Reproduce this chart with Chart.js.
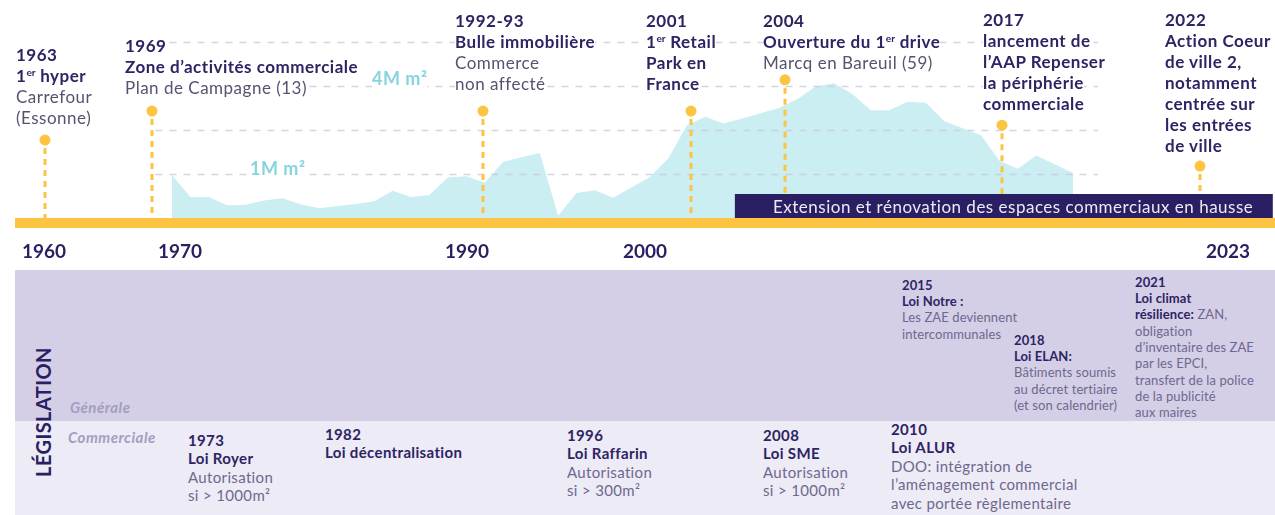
<!DOCTYPE html>
<html lang="fr">
<head>
<meta charset="utf-8">
<script src="https://cdn.jsdelivr.net/npm/chart.js@4.4.1/dist/chart.umd.min.js"></script>
<style>
  html,body{margin:0;padding:0;background:#fff;}
  body{width:1275px;height:515px;overflow:hidden;position:relative;font-family:Lato,"Open Sans",sans-serif;}
  #wrap{position:absolute;left:0;top:0;width:1275px;height:262px;}
  .nt{position:absolute;font-size:17px;line-height:21px;color:#2d2463;white-space:nowrap;z-index:5;letter-spacing:0.5px;}
  .nt>div{width:fit-content;background:#fff;}
  .b{font-weight:700;}
  .r{font-weight:400;color:#57526f;}
  sup{font-size:0.6em;line-height:0;vertical-align:0.6em;letter-spacing:0;}
  .unit{position:absolute;font-size:18px;line-height:20px;font-weight:700;color:#86d5de;background:#fff;z-index:5;white-space:nowrap;letter-spacing:0.5px;}
  .bartxt{position:absolute;left:773px;top:197px;font-size:17px;line-height:20px;color:#ecebf3;white-space:nowrap;z-index:5;letter-spacing:0.5px;}
  .panel1{position:absolute;left:15px;top:270px;width:1260px;height:151px;background:#d4cfe6;}
  .panel2{position:absolute;left:15px;top:421px;width:1260px;height:94px;background:#edebf5;}
  .leg{position:absolute;left:43px;top:412px;transform:translate(-50%,-50%) rotate(-90deg);font-size:20px;font-weight:700;color:#2a1f63;white-space:nowrap;letter-spacing:0.4px;}
  .cat{position:absolute;font-size:15px;font-style:italic;font-weight:700;color:#a39ec0;white-space:nowrap;line-height:18px;letter-spacing:0.5px;}
  .lw{position:absolute;font-size:15px;line-height:18.5px;color:#2d2463;white-space:nowrap;letter-spacing:0.35px;}
  .lw .r{color:#6e6890;}
  .lw.sm{font-size:13px;line-height:16.3px;letter-spacing:0.1px;}
</style>
</head>
<body>
<div id="wrap"><canvas id="c"></canvas></div>

<!-- top annotations -->
<div class="nt" style="left:16px;top:43.5px">
  <div class="b">1963</div>
  <div class="b">1<sup>er</sup> hyper</div>
  <div class="r">Carrefour</div>
  <div class="r">(Essonne)</div>
</div>
<div class="nt" style="left:125px;top:34.5px">
  <div class="b">1969</div>
  <div class="b">Zone d’activités commerciale</div>
  <div class="r">Plan de Campagne (13)</div>
</div>
<div class="nt" style="left:455px;top:9.5px">
  <div class="b">1992-93</div>
  <div class="b">Bulle immobilière</div>
  <div class="r">Commerce</div>
  <div class="r">non affecté</div>
</div>
<div class="nt" style="left:646px;top:9.5px">
  <div class="b">2001</div>
  <div class="b">1<sup>er</sup> Retail</div>
  <div class="b">Park en</div>
  <div class="b">France</div>
</div>
<div class="nt" style="left:763px;top:9.5px">
  <div class="b">2004</div>
  <div class="b">Ouverture du 1<sup>er</sup> drive</div>
  <div class="r">Marcq en Bareuil (59)</div>
</div>
<div class="nt" style="left:983px;top:8.5px">
  <div class="b">2017</div>
  <div class="b">lancement de</div>
  <div class="b">l’AAP Repenser</div>
  <div class="b">la périphérie</div>
  <div class="b">commerciale</div>
</div>
<div class="nt" style="left:1165px;top:8.5px">
  <div class="b">2022</div>
  <div class="b">Action Coeur</div>
  <div class="b">de ville 2,</div>
  <div class="b">notamment</div>
  <div class="b">centrée sur</div>
  <div class="b">les entrées</div>
  <div class="b">de ville</div>
</div>
<div class="unit" style="left:372px;top:68px">4M m²</div>
<div class="unit" style="left:250px;top:158px">1M m²</div>
<div class="bartxt">Extension et rénovation des espaces commerciaux en hausse</div>

<!-- legislation panel -->
<div class="panel1"></div>
<div class="panel2"></div>
<div class="leg">LÉGISLATION</div>
<div class="cat" style="left:70px;top:398px">Générale</div>
<div class="cat" style="left:68px;top:428px">Commerciale</div>

<div class="lw" style="left:188px;top:430.75px">
  <div class="b">1973</div>
  <div class="b">Loi Royer</div>
  <div class="r">Autorisation</div>
  <div class="r">si &gt; 1000m²</div>
</div>
<div class="lw" style="left:325px;top:424.75px">
  <div class="b">1982</div>
  <div class="b">Loi décentralisation</div>
</div>
<div class="lw" style="left:567px;top:425.75px">
  <div class="b">1996</div>
  <div class="b">Loi Raffarin</div>
  <div class="r">Autorisation</div>
  <div class="r">si &gt; 300m²</div>
</div>
<div class="lw" style="left:763px;top:425.75px">
  <div class="b">2008</div>
  <div class="b">Loi SME</div>
  <div class="r">Autorisation</div>
  <div class="r">si &gt; 1000m²</div>
</div>
<div class="lw" style="left:891px;top:419.75px">
  <div class="b">2010</div>
  <div class="b">Loi ALUR</div>
  <div class="r">DOO: intégration de</div>
  <div class="r">l’aménagement commercial</div>
  <div class="r">avec portée règlementaire</div>
</div>
<div class="lw sm" style="left:902px;top:276.85px">
  <div class="b">2015</div>
  <div class="b">Loi Notre :</div>
  <div class="r">Les ZAE deviennent</div>
  <div class="r">intercommunales</div>
</div>
<div class="lw sm" style="left:1014px;top:331.85px">
  <div class="b">2018</div>
  <div class="b">Loi ELAN:</div>
  <div class="r">Bâtiments soumis</div>
  <div class="r">au décret tertiaire</div>
  <div class="r">(et son calendrier)</div>
</div>
<div class="lw sm" style="left:1135px;top:273.85px">
  <div class="b">2021</div>
  <div class="b">Loi climat</div>
  <div><span class="b">résilience:</span><span class="r"> ZAN,</span></div>
  <div class="r">obligation</div>
  <div class="r">d’inventaire des ZAE</div>
  <div class="r">par les EPCI,</div>
  <div class="r">transfert de la police</div>
  <div class="r">de la publicité</div>
  <div class="r">aux maires</div>
</div>

<script>
// ---------------- DATA ----------------
const AREA_YEARS = [1970,1971,1972,1973,1974,1975,1976,1977,1978,1979,
                    1980,1981,1982,1983,1984,1985,1986,1987,1988,1989,
                    1990,1991,1992,1993,1994,1995,1996,1997,1998,1999,
                    2000,2001,2002,2003,2004,2005,2006,2007,2008,2009,
                    2010,2011,2012,2013,2014,2015,2016,2017,2018,2019];
// surfaces commerciales (millions de m²)
const AREA_VALUES = [0.98,0.48,0.48,0.29,0.30,0.40,0.45,0.31,0.22,0.27,
                     0.32,0.38,0.62,0.48,0.52,0.92,0.95,0.80,1.27,1.38,
                     1.48,0.05,0.57,0.63,0.46,0.70,0.94,1.36,2.11,2.30,
                     2.15,2.26,2.38,2.50,2.70,2.99,3.06,2.82,2.45,2.45,
                     2.64,2.62,2.20,2.04,1.88,1.30,1.12,1.42,1.22,1.02];
const TICK_YEARS = [1960, 1970, 1990, 2000, 2023];
const EVENT_YEARS = [1963, 1969, 1992.5, 2001, 2004, 2017, 2022];
const GRID_LEVELS = [1, 2, 3, 4];

// ---------------- LAYOUT ----------------
const CANVAS_W = 1275, CANVAS_H = 262;
const BASE_Y = 218, PX_PER_UNIT = 44;
// timeline (not to scale in the original): [year, pixel]
const TIMELINE_ANCHORS = [[1955,30],[1960,44],[1963,45],[1969,152],[1970,180],[1990,467],
  [1992.5,483],[2000,645],[2001,691],[2004,785],[2017,1002],[2022,1200],[2023,1228],[2030,1424]];
const EVENT_STEM = [1.77, 2.43, 2.43, 2.43, 3.14, 2.11, 1.18]; // dot heights (y units)
const AREA_X_MIN = 1960.646, AREA_X_MAX = 2029.984;
const GRID_FROM = 1969.1, GRID_TO = 2020.36;
const BAR_FROM = 2002.4, BAR_TO = 2024.6;
const YELLOW = '#fdc441', NAVY = '#2a1f63', CYAN = '#cbeef2';

class TimelineScale extends Chart.LinearScale {
  static id = 'timeline';
  static defaults = Chart.LinearScale.defaults;
  _frac(v) {
    const A = TIMELINE_ANCHORS;
    let i = 1;
    while (i < A.length - 1 && v > A[i][0]) i++;
    const [y0, p0] = A[i - 1], [y1, p1] = A[i];
    return (p0 + (v - y0) * (p1 - p0) / (y1 - y0)) / CANVAS_W;
  }
  getPixelForValue(v) { return this.getPixelForDecimal(this._frac(v)); }
  getValueForPixel(p) {
    const d = this.getDecimalForPixel(p) * CANVAS_W;
    const A = TIMELINE_ANCHORS;
    let i = 1;
    while (i < A.length - 1 && d > A[i][1]) i++;
    const [y0, p0] = A[i - 1], [y1, p1] = A[i];
    return y0 + (d - p0) * (y1 - y0) / (p1 - p0);
  }
}
Chart.register(TimelineScale);

const decor = {
  id: 'decor',
  afterDatasetDraw(chart, args) {
    if (args.index !== 0) return;
    const ctx = chart.ctx, xs = chart.scales.x, xa = chart.scales.xa, ys = chart.scales.y;
    const base = ys.getPixelForValue(0);
    ctx.save();
    // dashed grid lines
    ctx.strokeStyle = 'rgba(200,196,222,0.75)';
    ctx.lineWidth = 1.5;
    ctx.setLineDash([7, 7]);
    GRID_LEVELS.forEach(l => {
      const y = Math.round(ys.getPixelForValue(l)) + 0.5;
      ctx.beginPath();
      ctx.moveTo(xa.getPixelForValue(GRID_FROM), y);
      ctx.lineTo(xa.getPixelForValue(GRID_TO), y);
      ctx.stroke();
    });
    // event stems
    ctx.strokeStyle = YELLOW;
    ctx.lineWidth = 3;
    ctx.setLineDash([6, 5]);
    EVENT_YEARS.forEach((yr, i) => {
      const x = xs.getPixelForValue(yr);
      ctx.beginPath();
      ctx.moveTo(x, ys.getPixelForValue(EVENT_STEM[i]) + 8);
      ctx.lineTo(x, base);
      ctx.stroke();
    });
    ctx.setLineDash([]);
    // navy period bar
    const bx0 = xs.getPixelForValue(BAR_FROM), bx1 = xs.getPixelForValue(BAR_TO);
    ctx.fillStyle = NAVY;
    ctx.fillRect(bx0, base - 24, bx1 - bx0, 24);
    // yellow time line
    ctx.fillStyle = YELLOW;
    ctx.fillRect(chart.chartArea.left + 15, base, chart.chartArea.right - chart.chartArea.left - 15, 10);
    ctx.restore();
  }
};

new Chart(document.getElementById('c'), {
  type: 'line',
  data: {
    datasets: [
      {
        type: 'line',
        data: AREA_YEARS.map((yr, i) => ({ x: yr, y: AREA_VALUES[i] })),
        xAxisID: 'xa', yAxisID: 'y',
        fill: 'origin',
        backgroundColor: CYAN,
        borderWidth: 0,
        borderColor: 'rgba(0,0,0,0)',
        pointRadius: 0,
        tension: 0,
        order: 2
      },
      {
        type: 'scatter',
        data: EVENT_YEARS.map((yr, i) => ({ x: yr, y: EVENT_STEM[i] })),
        xAxisID: 'x', yAxisID: 'y',
        pointRadius: 5.5,
        pointBackgroundColor: YELLOW,
        pointBorderWidth: 0,
        order: 0
      }
    ]
  },
  options: {
    responsive: true,
    maintainAspectRatio: false,
    animation: false,
    events: [],
    layout: { padding: 0, autoPadding: false },
    plugins: { legend: { display: false }, tooltip: { enabled: false } },
    scales: {
      x: {
        type: 'timeline', position: 'bottom', min: 1955, max: 2030,
        grid: { display: false }, border: { display: false },
        ticks: {
          autoSkip: false, maxRotation: 0, padding: 14, color: NAVY,
          font: { family: 'Lato', size: 19, weight: 'bold' },
          callback: v => String(v)
        },
        afterBuildTicks: s => { s.ticks = TICK_YEARS.map(v => ({ value: v })); },
        afterFit: s => { s.height = CANVAS_H - BASE_Y; s.paddingLeft = 0; s.paddingRight = 0; }
      },
      xa: { type: 'linear', display: false, min: AREA_X_MIN, max: AREA_X_MAX },
      y: { type: 'linear', display: false, min: 0, max: BASE_Y / PX_PER_UNIT }
    }
  },
  plugins: [decor]
});
</script>
</body>
</html>
